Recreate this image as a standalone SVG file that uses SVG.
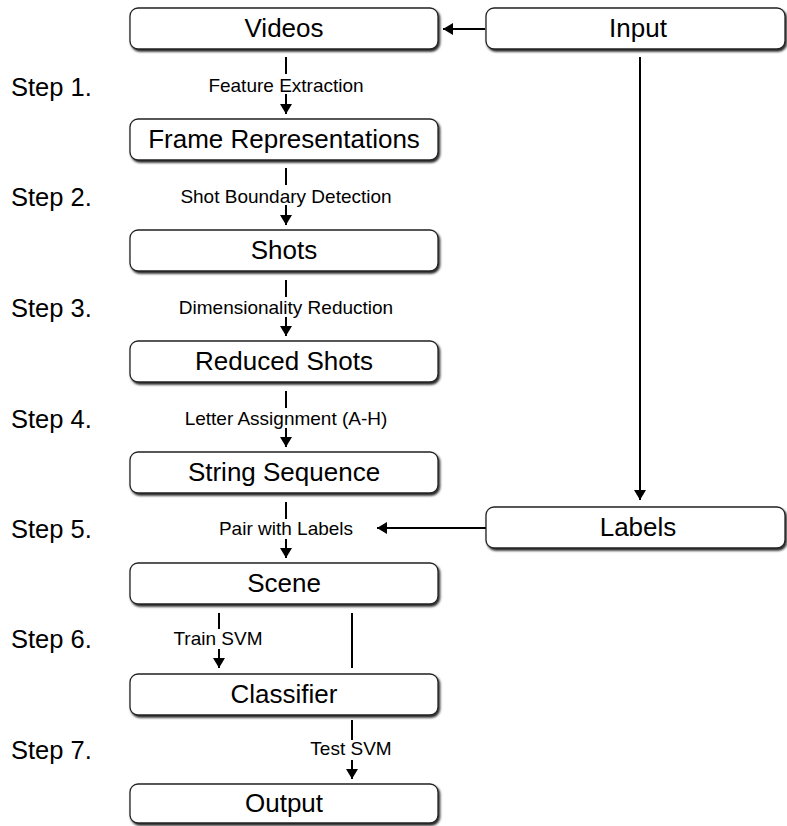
<svg xmlns="http://www.w3.org/2000/svg" width="787" height="826" viewBox="0 0 787 826">
<defs>
<filter id="sh" x="-5%" y="-20%" width="110%" height="150%">
<feDropShadow dx="1.5" dy="2" stdDeviation="1" flood-color="#000" flood-opacity="0.85"/>
</filter>
<marker id="ah" viewBox="0 0 10 12" refX="10" refY="6" markerWidth="10" markerHeight="12" markerUnits="userSpaceOnUse" orient="auto">
<path d="M0,0 L10,6 L0,12 Z" fill="#000"/>
</marker>
<style>
.box{fill:#fff;stroke:#222;stroke-width:1.3;filter:url(#sh)}
.nt{font-family:"Liberation Sans",Arial,sans-serif;font-size:26px;fill:#000;text-anchor:middle}
.et{font-family:"Liberation Sans",Arial,sans-serif;font-size:19px;fill:#000;text-anchor:middle}
.st{font-family:"Liberation Sans",Arial,sans-serif;font-size:25.5px;fill:#000}
.ln{stroke:#000;stroke-width:2;fill:none}
.ar{stroke:#000;stroke-width:2;fill:none;marker-end:url(#ah)}
</style>
</defs>
<g id="steps">
<text class="st" x="11" y="96">Step 1.</text>
<text class="st" x="11" y="206">Step 2.</text>
<text class="st" x="11" y="317">Step 3.</text>
<text class="st" x="11" y="428">Step 4.</text>
<text class="st" x="11" y="538">Step 5.</text>
<text class="st" x="11" y="648">Step 6.</text>
<text class="st" x="11" y="759">Step 7.</text>
</g>
<g id="connectors">
<line class="ar" x1="485" y1="29" x2="443" y2="29"/>
<line class="ar" x1="640" y1="57" x2="640" y2="500"/>
<line class="ar" x1="486" y1="528" x2="377" y2="528"/>
<line class="ln" x1="286" y1="57" x2="286" y2="74"/>
<line class="ar" x1="286" y1="94" x2="286" y2="114"/>
<line class="ln" x1="286" y1="168" x2="286" y2="185"/>
<line class="ar" x1="286" y1="205" x2="286" y2="225"/>
<line class="ln" x1="286" y1="280" x2="286" y2="297"/>
<line class="ar" x1="286" y1="317" x2="286" y2="336"/>
<line class="ln" x1="286" y1="391" x2="286" y2="408"/>
<line class="ar" x1="286" y1="428" x2="286" y2="447"/>
<line class="ln" x1="286" y1="502" x2="286" y2="519"/>
<line class="ar" x1="286" y1="539" x2="286" y2="558"/>
<line class="ln" x1="219" y1="613" x2="219" y2="629"/>
<line class="ar" x1="219" y1="649" x2="219" y2="668"/>
<line class="ln" x1="352" y1="613" x2="352" y2="668"/>
<line class="ln" x1="352" y1="720" x2="352" y2="740"/>
<line class="ar" x1="352" y1="760" x2="352" y2="779"/>
<text class="et" x="286" y="92">Feature Extraction</text>
<text class="et" x="286" y="203">Shot Boundary Detection</text>
<text class="et" x="286" y="314">Dimensionality Reduction</text>
<text class="et" x="286" y="425">Letter Assignment (A-H)</text>
<text class="et" x="286" y="535">Pair with Labels</text>
<text class="et" x="218" y="645">Train SVM</text>
<text class="et" x="351" y="755">Test SVM</text>
</g>
<g id="videos"><rect class="box" x="130" y="8" width="308" height="41" rx="8"/><text class="nt" x="284" y="37">Videos</text></g>
<g id="input"><rect class="box" x="486" y="8" width="299" height="41" rx="8"/><text class="nt" x="638" y="37">Input</text></g>
<g id="frames"><rect class="box" x="130" y="119" width="308" height="41" rx="8"/><text class="nt" x="284" y="148">Frame Representations</text></g>
<g id="shots"><rect class="box" x="130" y="230" width="308" height="41" rx="8"/><text class="nt" x="284" y="259">Shots</text></g>
<g id="reduced"><rect class="box" x="130" y="341" width="308" height="41" rx="8"/><text class="nt" x="284" y="370">Reduced Shots</text></g>
<g id="string"><rect class="box" x="130" y="452" width="308" height="41" rx="8"/><text class="nt" x="284" y="481">String Sequence</text></g>
<g id="labels"><rect class="box" x="486" y="507" width="299" height="41" rx="8"/><text class="nt" x="638" y="536">Labels</text></g>
<g id="scene"><rect class="box" x="130" y="563" width="308" height="41" rx="8"/><text class="nt" x="284" y="592">Scene</text></g>
<g id="classifier"><rect class="box" x="130" y="674" width="308" height="41" rx="8"/><text class="nt" x="284" y="703">Classifier</text></g>
<g id="output"><rect class="box" x="130" y="784" width="308" height="39" rx="8"/><text class="nt" x="284" y="812">Output</text></g>
</svg>
